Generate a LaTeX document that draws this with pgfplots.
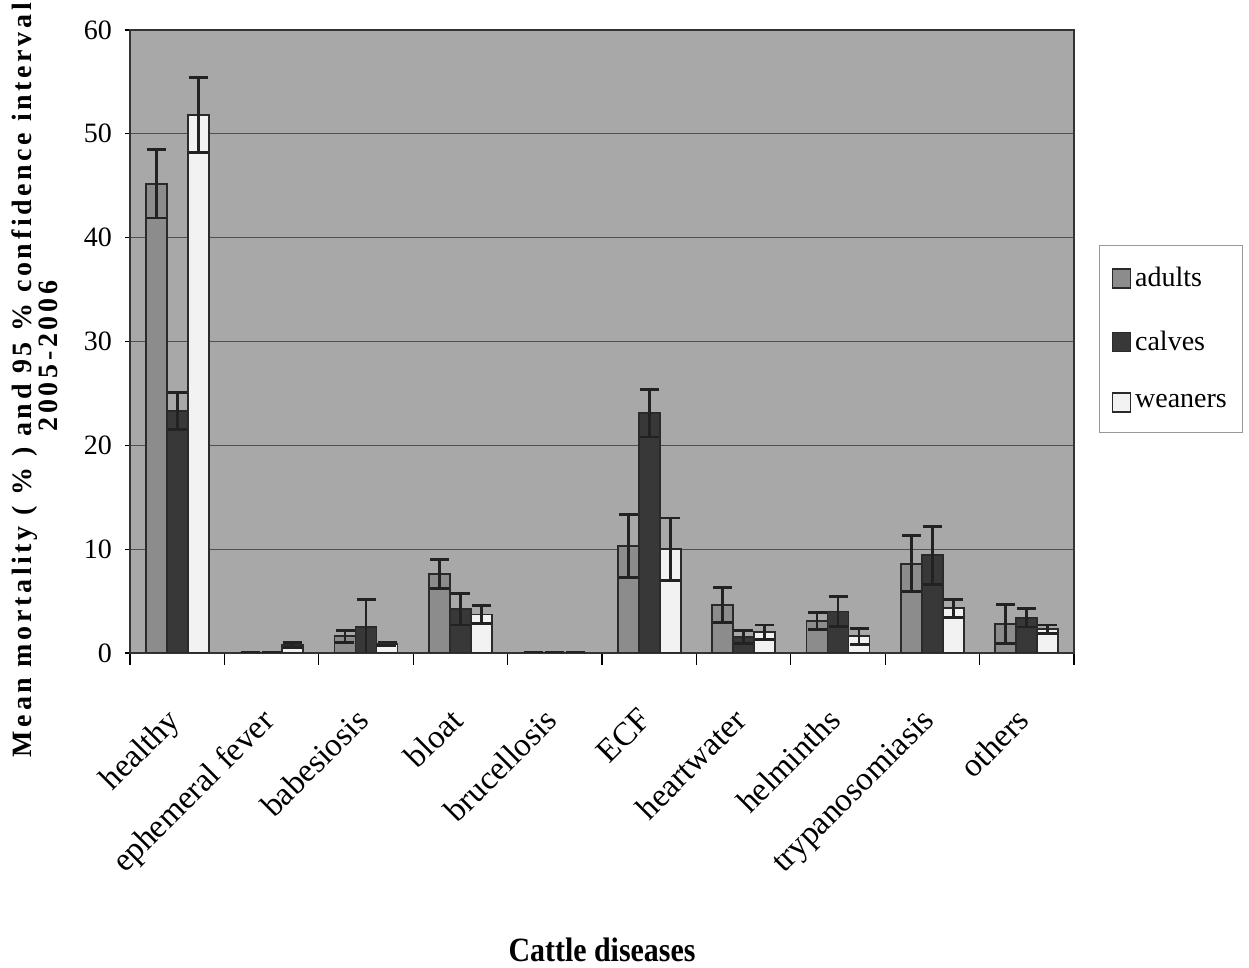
\documentclass[border=0pt]{standalone}
\usepackage{fontspec}
\setmainfont{Liberation Serif}
\usepackage{graphicx}
\usepackage{pgfplots}
\pgfplotsset{compat=1.18}
\usepackage{pgfplotstable}

\definecolor{plotbg}{HTML}{A8A8A8}
\definecolor{adultc}{HTML}{8C8C8C}
\definecolor{calfc}{HTML}{383838}
\definecolor{weanc}{HTML}{F2F2F2}
\definecolor{gridc}{HTML}{505050}
\definecolor{barc}{HTML}{2A2A2A}
\definecolor{errc}{HTML}{222222}
\definecolor{legc}{HTML}{999999}

\pgfplotstableread{
x  a     ae    c     ce    w     we
0  45.2  3.3   23.3  1.8   51.8  3.6
1  0.05  0     0.05  0     0.75  0.25
2  1.6   0.6   2.5   2.65  0.9   0.15
3  7.6   1.4   4.2   1.5   3.7   0.85
4  0.05  0     0.05  0     0.05  0
5  10.3  3.0   23.1  2.3   10.0  3.0
6  4.6   1.7   1.55  0.65  2.0   0.7
7  3.1   0.8   4.0   1.45  1.6   0.75
8  8.6   2.7   9.4   2.8   4.3   0.85
9  2.8   1.9   3.4   0.9   2.3   0.4
}\data

\begin{document}
\begin{tikzpicture}
\useasboundingbox (0,0) rectangle (624.5pt,484pt);
\begin{axis}[
  at={(65pt,157.5pt)}, anchor=south west,
  scale only axis, width=472pt, height=311.5pt,
  xmin=-0.5, xmax=9.5, ymin=0, ymax=60,
  ytick={0,10,...,60},
  xtick={0,...,9},
  xticklabels={healthy, ephemeral fever, babesiosis, bloat, brucellosis, ECF, heartwater, helminths, trypanosomiasis, others},
  minor xtick={-0.5,0.5,...,9.5},
  major x tick style={draw=none},
  xtick pos=bottom, ytick pos=left,
  tick align=outside,
  minor tick length=6pt,
  major tick length=2.5pt,
  tick style={draw=black, line width=0.6pt},
  ymajorgrids,
  grid style={draw=gridc, line width=0.6pt},
  axis background/.style={fill=plotbg},
  axis line style={draw=black!80, line width=0.8pt},
  /pgf/number format/assume math mode=true,
  yticklabel style={font=\fontsize{14}{16}\selectfont, xshift=-3pt},
  xticklabel style={yshift=-24pt, xshift=-6pt, rotate=45, anchor=north east, inner sep=0pt, font=\fontsize{16.5}{18}\selectfont},
  xlabel={\scalebox{0.88}[1]{Cattle diseases}},
  xlabel style={at={(axis description cs:0.5,0)}, anchor=base, yshift=-154.5pt, font=\bfseries\fontsize{17}{20}\selectfont},
  ylabel={Mean mortality ( \% ) and 95 \% confidence interval\\\hspace*{24pt}2005-2006},
  ylabel style={at={(axis description cs:-0.101,0.438)}, anchor=center, align=center, font=\bfseries\fontsize{14}{10}\selectfont\addfontfeature{LetterSpace=13}},
  ybar=0pt, bar width=10.5pt,
  legend cell align=left,
  legend style={at={(1.0265,0.655)}, anchor=north west, draw=legc, line width=0.5pt, fill=white,
    font=\fontsize{14}{16}\selectfont, row sep=16.5pt, inner xsep=6pt, inner ysep=9pt,
    /tikz/every even column/.append style={column sep=4pt}},
  legend image code/.code={\draw[#1, line width=0.8pt] (0pt,-4.75pt) rectangle (9pt,4.75pt);},
]
\addplot[fill=adultc, draw=barc, line width=0.9pt,
  error bars/.cd, y dir=both, y explicit,
  error bar style={line width=1.4pt, draw=errc},
  error mark options={rotate=90, line width=1.4pt, draw=errc, mark size=4.75pt}]
  table[x=x, y=a, y error=ae]{\data};
\addplot[fill=calfc, draw=barc, line width=0.9pt,
  error bars/.cd, y dir=both, y explicit,
  error bar style={line width=1.4pt, draw=errc},
  error mark options={rotate=90, line width=1.4pt, draw=errc, mark size=4.75pt}]
  table[x=x, y=c, y error=ce]{\data};
\addplot[fill=weanc, draw=barc, line width=0.9pt,
  error bars/.cd, y dir=both, y explicit,
  error bar style={line width=1.4pt, draw=errc},
  error mark options={rotate=90, line width=1.4pt, draw=errc, mark size=4.75pt}]
  table[x=x, y=w, y error=we]{\data};
\legend{adults, calves, weaners}
\end{axis}
\end{tikzpicture}
\end{document}
